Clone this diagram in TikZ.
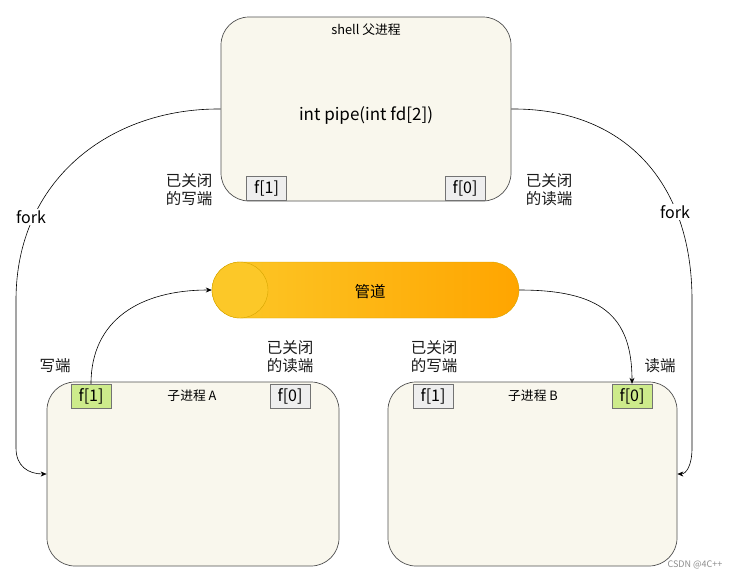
\documentclass[tikz,border=0pt]{standalone}
\usepackage{fontspec}
\setmainfont{Noto Sans CJK SC}
\usepackage{xcolor}
\usepackage{tikz}
\usetikzlibrary{arrows.meta,positioning,calc}

\definecolor{procfill}{HTML}{F9F7ED}
\definecolor{procline}{HTML}{505050}
\definecolor{fdgray}{HTML}{EEEEEE}
\definecolor{fdgreen}{HTML}{CDEB8B}
\definecolor{pipeleft}{HTML}{FCC828}
\definecolor{piperight}{HTML}{FFA500}
\definecolor{pipeline}{HTML}{D6A500}

\tikzset{
  proc/.style={draw=procline,fill=procfill,rounded corners=28pt,minimum width=290pt,minimum height=184pt,line width=0.7pt},
  fd/.style={draw=procline!80,fill=fdgray,minimum width=40pt,minimum height=24pt,inner sep=0pt,font=\fontsize{16}{18}\selectfont},
  fdon/.style={fd,fill=fdgreen},
  note/.style={align=center,font=\fontsize{15.5}{18}\selectfont,text=black!90},
  conn/.style={-{Stealth[length=6pt,width=5pt]},line width=0.6pt},
}

\begin{document}
\begin{tikzpicture}[x=1pt,y=-1pt]
\useasboundingbox (0,0) rectangle (741,579);
% parent
\node[proc] (shell) at (366,109) {};
\node[font=\fontsize{12.8}{14}\selectfont] (shelltitle) at (366,30) {shell 父进程};
\node[font=\fontsize{17}{19}\selectfont] (pipecall) at (366,115) {int pipe(int fd[2])};
\node[fd] (s1) at (266.5,188) {f[1]};
\node[fd] (s0) at (465,188) {f[0]};
\node[note] (sclosew) at (189,190) {已关闭\\的写端};
\node[note] (scloser) at (549,190) {已关闭\\的读端};
% pipe
\node[draw=pipeline,left color=pipeleft,right color=piperight,rounded corners=28pt,minimum width=307pt,minimum height=56pt] (pipe) at (365.5,290) {};
\node[circle,draw=pipeline,fill=pipeleft,minimum size=56pt,inner sep=0pt] (pipecap) at (240,290) {};
\node[font=\fontsize{15.5}{17}\selectfont] (pipelbl) at (370,292) {管道};
% children
\node[proc,minimum width=292pt] (childA) at (193,474) {};
\node[proc,minimum width=289pt] (childB) at (532.5,474) {};
\node[font=\fontsize{12.8}{14}\selectfont] (atitle) at (192,396) {子进程 A};
\node[font=\fontsize{12.8}{14}\selectfont] (btitle) at (533,396) {子进程 B};
\node[fdon] (a1) at (91,396) {f[1]};
\node[fd] (a0) at (290,396) {f[0]};
\node[fd] (b1) at (433,396) {f[1]};
\node[fdon] (b0) at (632,396) {f[0]};
\node[note] (awrite) at (55,366) {写端};
\node[note] (acloser) at (290,357) {已关闭\\的读端};
\node[note] (bclosew) at (434,357) {已关闭\\的写端};
\node[note] (bread) at (660,366) {读端};
% connectors
\draw[conn] (shell.west) .. controls (110,108) and (16,180) .. (16,300) -- (16,448) .. controls (16,466) and (28,474) .. (childA.west);
\draw[conn] (shell.east) .. controls (622,108) and (692,180) .. (692,300) -- (692,448) .. controls (692,466) and (686,474) .. (childB.east);
\draw[conn] (a1.north) .. controls (91,320) and (140,290) .. (pipe.west);
\draw[conn] (pipe.east) .. controls (600,290) and (632,315) .. (b0.north);
\node[fill=white,inner sep=1pt,font=\fontsize{16}{18}\selectfont] (forkL) at (31,217) {fork};
\node[fill=white,inner sep=1pt,font=\fontsize{16}{18}\selectfont] (forkR) at (675,212) {fork};
\node[text=black!45,font=\fontsize{9}{11}\selectfont] (mark) at (695,565) {CSDN @4C++};
\end{tikzpicture}
\end{document}
